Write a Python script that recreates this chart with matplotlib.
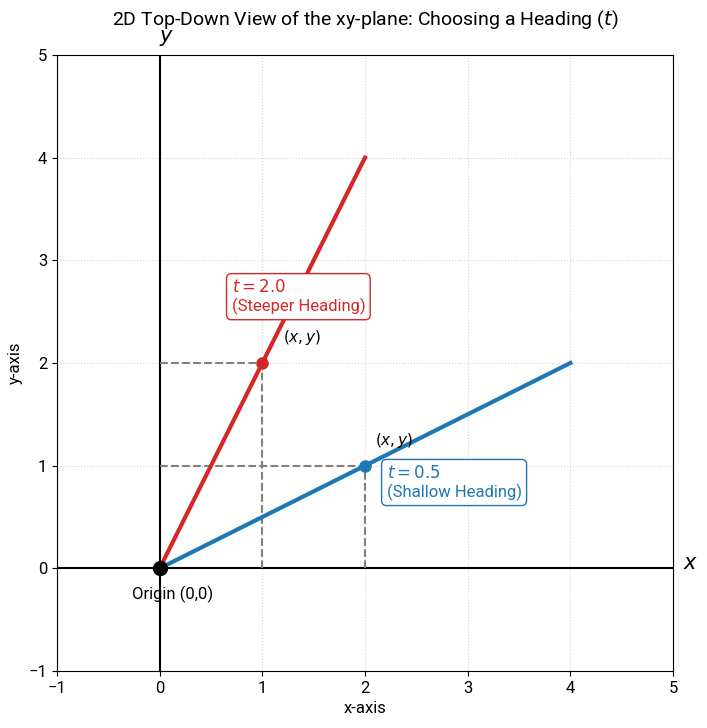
import matplotlib
matplotlib.use("Agg")
import matplotlib.pyplot as plt

# --- dados ---
t_values = [2.0, 0.5]
t_names = ["(Steeper Heading)", "(Shallow Heading)"]
line_x_end = [2, 4]
point_x = [1, 2]
colors = ["#d62728", "#1f77b4"]
box_pos = [(0.7, 2.65), (2.21, 0.84)]
xy_label_pos = [(1.2, 2.2), (2.1, 1.2)]

plt.rcParams["font.family"] = ["Roboto", "DejaVu Sans"]
plt.rcParams["mathtext.fontset"] = "dejavusans"

fig = plt.figure(figsize=(7.07, 7.28), dpi=100)
ax = fig.add_axes([0.0806, 0.0783, 0.8714, 0.8462])

# eixos x e y por cima da grade
ax.axhline(0, color="black", lw=1.5, zorder=2)
ax.axvline(0, color="black", lw=1.5, zorder=2)

for t, name, xe, px, c, bp, lp in zip(t_values, t_names, line_x_end, point_x,
                                       colors, box_pos, xy_label_pos):
    ax.plot([0, xe], [0, t * xe], color=c, lw=3, zorder=3)
    py = t * px
    ax.plot([0, px], [py, py], color="gray", ls="--", lw=1.5, zorder=2.5)
    ax.plot([px, px], [0, py], color="gray", ls="--", lw=1.5, zorder=2.5)
    ax.plot(px, py, "o", color=c, ms=8, zorder=4)
    ax.text(lp[0], lp[1], "$(x, y)$", fontsize=11, zorder=5)
    ax.text(bp[0], bp[1], f"$t = {t}$\n{name}", color=c, fontsize=12,
            va="center", ha="left", zorder=5,
            bbox=dict(boxstyle="round,pad=0.3", fc="white", ec=c, lw=1))

ax.plot(0, 0, "o", color="black", ms=10, zorder=6)
ax.text(0.13, -0.25, "Origin (0,0)", fontsize=12, ha="center", va="center")

ax.text(5.1, 0.05, "$x$", fontsize=15, va="center", ha="left")
ax.text(0.07, 5.07, "$y$", fontsize=15, va="bottom", ha="center")

ax.set_xlim(-1, 5)
ax.set_ylim(-1, 5)
ax.set_aspect("equal")
ax.grid(True, ls=":", color="lightgray", lw=0.8, zorder=0)
ax.set_axisbelow(True)
ax.set_xlabel("x-axis", fontsize=12)
ax.set_ylabel("y-axis", fontsize=12)
ax.tick_params(labelsize=12)
ax.set_title("2D Top-Down View of the xy-plane: Choosing a Heading ($t$)",
             fontsize=14, pad=22)

fig.savefig("out.png", dpi=100)
